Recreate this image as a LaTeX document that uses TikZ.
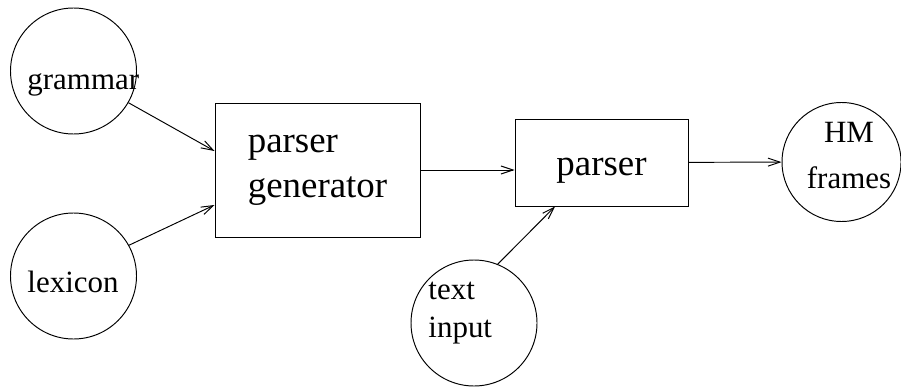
\documentclass[tikz,border=0pt]{standalone}
\usepackage{fontspec}
\setmainfont{Liberation Serif}
\usetikzlibrary{arrows.meta,positioning,calc}

\begin{document}
\begin{tikzpicture}[line width=0.55pt, >={Straight Barb[length=2.4mm,width=1.6mm]}]
\tikzset{blob/.style={draw, circle, minimum size=2.52cm, inner sep=0pt}, lbl/.style={font=\fontsize{17.6}{21.6}\selectfont, inner sep=0pt}, stage/.style={draw, rectangle, align=left, font=\fontsize{21}{25.6}\selectfont}}
\useasboundingbox (0,0) rectangle (18.02,7.76);
% inputs on the left
\node[blob] (gram) at (1.47,6.34) {};
\node[lbl, anchor=base west] (gramtxt) at (0.54,5.96) {grammar};
\node[blob] (lex) at (1.47,2.24) {};
\node[lbl, anchor=base west] (lextxt) at (0.54,1.92) {lexicon};
% the two stages
\node[stage, minimum width=4.1cm, minimum height=2.68cm] (pg) at (6.35,4.36) {parser\\generator};
\node[stage, minimum width=3.46cm, minimum height=1.74cm, text height=0.66cm] (parser) at (12.03,4.51) {parser};
% text in, frames out
\node[blob] (tin) at (9.48,1.30) {};
\node[lbl, anchor=west, align=left] (tintxt) at (8.56,1.50) {text\\input};
\node[blob, minimum size=2.38cm] (hm) at (16.83,4.52) {};
\node[lbl, align=center, font=\fontsize{17.6}{26.2}\selectfont] (hmtxt) at (16.98,4.64) {HM\\frames};
\draw[->] (gram.-30) -- ($(pg.west)+(0,0.38)$);
\draw[->] (lex.29) -- ($(pg.west)+(0,-0.70)$);
\draw[->] (pg.east) -- (pg.east -| parser.west);
\draw[->] (tin.68) -- ($(parser.south)+(-0.93,0)$);
\draw[->] (parser) -- (hm);
\end{tikzpicture}
\end{document}
